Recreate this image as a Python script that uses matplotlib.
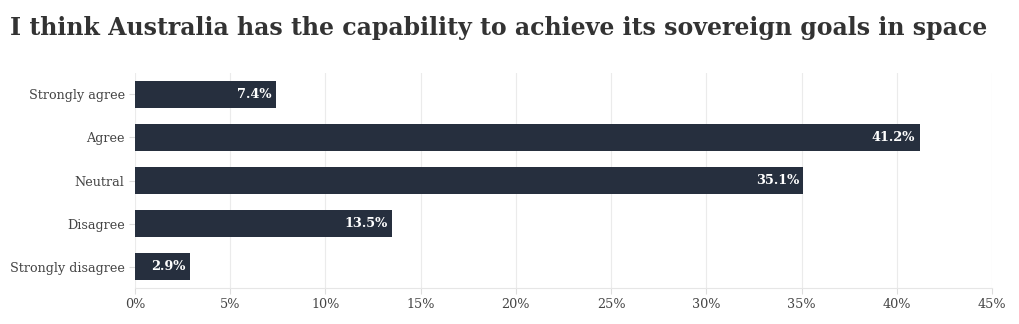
import numpy as np
import matplotlib.pyplot as plt
from matplotlib.ticker import FuncFormatter

categories = ['Strongly agree', 'Agree', 'Neutral', 'Disagree', 'Strongly disagree']
values = [7.4, 41.2, 35.1, 13.5, 2.9]
xticks = [0, 5, 10, 15, 20, 25, 30, 35, 40, 45]

bar_color = '#262f3e'
text_color = '#444444'

plt.rcParams['font.family'] = ['DejaVu Serif']

fig = plt.figure(figsize=(10.2, 3.24), dpi=100)
ax = fig.add_axes([0.1324, 0.1111, 0.8401, 0.6636])

y = np.arange(len(categories))
ax.barh(y, values, height=0.65, color=bar_color, zorder=3)

for yi, v in zip(y, values):
    ax.text(v - 0.22, yi, f'{v:.1f}%', ha='right', va='center',
            color='white', fontsize=9.3, fontweight='bold', zorder=4)

ax.set_yticks(y)
ax.set_yticklabels(categories)
ax.set_ylim(4.5, -0.5)
ax.set_xlim(0, 45)
ax.set_xticks(xticks)
ax.xaxis.set_major_formatter(FuncFormatter(lambda v, p: f'{v:.0f}%'))

ax.grid(axis='x', color='#ebebeb', linewidth=0.8, zorder=0)
for s in ['top', 'right', 'left']:
    ax.spines[s].set_visible(False)
ax.spines['bottom'].set_color('#e6e6e6')
ax.tick_params(axis='both', colors='#dddddd', labelcolor=text_color, labelsize=9.2, length=4)

fig.text(10 / 1020, 1 - 28 / 324, 'I think Australia has the capability to achieve its sovereign goals in space',
         fontsize=17, fontweight='bold', color='#333333', ha='left', va='center')

fig.savefig('out.png', dpi=100)
